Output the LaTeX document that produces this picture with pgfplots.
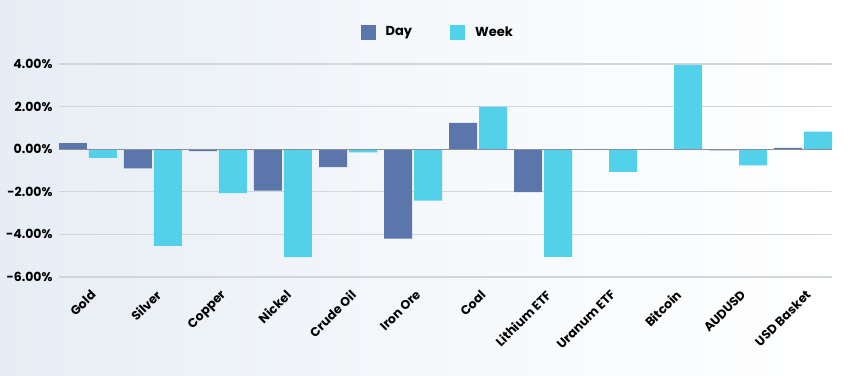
\documentclass[border=0pt]{standalone}
\usepackage{fontspec}
\setmainfont{Poppins}[BoldFont={Poppins Bold}]
\usepackage{pgfplots}
\pgfplotsset{compat=1.18}
\definecolor{dayc}{HTML}{5A76AA}
\definecolor{weekc}{HTML}{53D0EA}
\definecolor{bgl}{HTML}{E6EDF4}
\definecolor{gridc}{HTML}{D2D5D9}
\definecolor{zeroc}{HTML}{8A8F96}
\begin{document}
\begin{tikzpicture}
\shade[left color=bgl, right color=white, middle color=white!60!bgl] (0,0) rectangle (850bp,376bp);
\begin{axis}[
  at={(59bp,99bp)}, anchor=south west,
  scale only axis, width=773bp, height=213bp,
  xmin=-0.446, xmax=11.446, ymin=-6, ymax=4,
  ybar=2bp, bar width=28bp,
  axis line style={draw=none},
  major tick length=0pt,
  ymajorgrids, major grid style={gridc, line width=1.2bp},
  ytick={-6,-4,-2,0,2,4},
  yticklabels={-6.00\%,-4.00\%,-2.00\%,0.00\%,2.00\%,4.00\%},
  yticklabel style={font=\fontsize{12.5bp}{14bp}\selectfont\bfseries, anchor=east, xshift=-3bp},
  xtick={0,...,11},
  xticklabels={Gold,Silver,Copper,Nickel,Crude Oil,Iron Ore,Coal,Lithium ETF,Uranum ETF,Bitcoin,AUDUSD,USD Basket},
  xticklabel style={font=\fontsize{12.5bp}{14bp}\selectfont\bfseries, xshift=2bp, yshift=-12bp, rotate=45, anchor=north east, inner sep=0pt},
  legend columns=2,
  legend style={at={(0.49,1.15)}, anchor=center, draw=none, fill=none,
    font=\fontsize{13bp}{15bp}\selectfont\bfseries,
    /tikz/every even column/.append style={column sep=36bp}},
  legend image code/.code={\fill[#1,draw=none] (0bp,-7.5bp) rectangle (15bp,7.5bp);},
  legend cell align=left,
]
\addplot[fill=dayc, draw=none] coordinates {(0,0.29) (1,-0.90) (2,-0.09) (3,-1.94) (4,-0.84) (5,-4.20) (6,1.23) (7,-2.02) (8,0) (9,0) (10,-0.06) (11,0.06)};
\addlegendentry{\hspace{8bp}Day}
\addplot[fill=weekc, draw=none] coordinates {(0,-0.41) (1,-4.54) (2,-2.06) (3,-5.07) (4,-0.15) (5,-2.41) (6,1.99) (7,-5.06) (8,-1.06) (9,3.96) (10,-0.76) (11,0.82)};
\addlegendentry{\hspace{8bp}Week}
\draw[zeroc, line width=1.2bp] (axis cs:-0.446,0) -- (axis cs:11.446,0);
\end{axis}
\pgfresetboundingbox
\path (0,0) rectangle (850bp,376bp);
\end{tikzpicture}
\end{document}
